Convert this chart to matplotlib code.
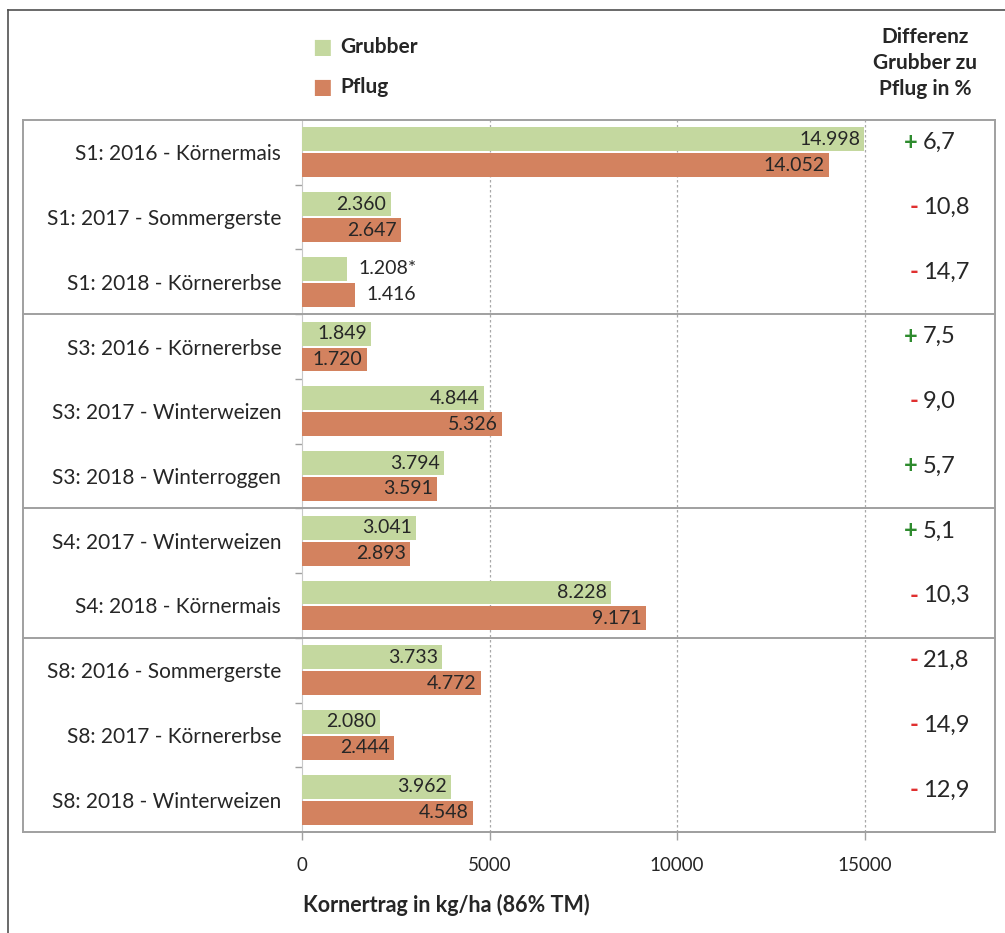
import matplotlib
matplotlib.use("Agg")
import matplotlib.pyplot as plt
from matplotlib.transforms import blended_transform_factory
from matplotlib.lines import Line2D

plt.rcParams['font.family'] = ['Lato', 'DejaVu Sans']

# data
categories = ["S1: 2016 - Körnermais", "S1: 2017 - Sommergerste", "S1: 2018 - Körnererbse",
              "S3: 2016 - Körnererbse", "S3: 2017 - Winterweizen", "S3: 2018 - Winterroggen",
              "S4: 2017 - Winterweizen", "S4: 2018 - Körnermais",
              "S8: 2016 - Sommergerste", "S8: 2017 - Körnererbse", "S8: 2018 - Winterweizen"]
grubber = [14998, 2360, 1208, 1849, 4844, 3794, 3041, 8228, 3733, 2080, 3962]
pflug = [14052, 2647, 1416, 1720, 5326, 3591, 2893, 9171, 4772, 2444, 4548]
differenz = ["+6,7", "-10,8", "-14,7", "+7,5", "-9,0", "+5,7", "+5,1", "-10,3", "-21,8", "-14,9", "-12,9"]
group_breaks = [2.5, 5.5, 7.5]
xticks = [0, 5000, 10000, 15000]

c_grub = "#c4d89f"
c_pflug = "#d3825f"
txt = "#262626"

W, H = 1005, 933
fig = plt.figure(figsize=(W / 100, H / 100), dpi=100)
ax = fig.add_axes([302 / W, 1 - 832 / H, 693 / W, 712 / H])

def fmt(v):
    return f"{v:,}".replace(",", ".")

ys = list(range(len(categories)))
bh = 0.37
ax.barh([y - 0.2 for y in ys], grubber, height=bh, color=c_grub, zorder=3)
ax.barh([y + 0.2 for y in ys], pflug, height=bh, color=c_pflug, zorder=3)

for y, g, p in zip(ys, grubber, pflug):
    for val, yy in ((g, y - 0.2), (p, y + 0.2)):
        lab = fmt(val)
        if val == 1208:
            lab += "*"
        if val < 1500:
            ax.text(val + 290, yy, lab, ha="left", va="center", fontsize=14, color=txt, zorder=4)
        else:
            ax.text(val - 110, yy, lab, ha="right", va="center", fontsize=14, color=txt, zorder=4)

ax.set_xlim(0, 18480)
ax.set_ylim(10.5, -0.5)
ax.set_xticks(xticks)
ax.set_xticklabels([str(t) for t in xticks], fontsize=13.5, color=txt)
ax.set_yticks(ys)
ax.set_yticklabels(categories, fontsize=15, color=txt)
ax.set_yticks([y + 0.5 for y in ys[:-1]], minor=True)
ax.tick_params(axis="y", which="major", length=0, pad=15)
ax.tick_params(axis="y", which="minor", length=5, color="#a0a0a0", width=1)
ax.tick_params(axis="x", length=6, color="#a0a0a0", width=1, pad=12)
for s in ["top", "right"]:
    ax.spines[s].set_visible(False)
ax.spines["left"].set_color("#c8c8c8")
ax.spines["bottom"].set_color("#a0a0a0")
ax.spines["bottom"].set_linewidth(1.3)
for t in xticks[1:]:
    ax.axvline(t, color="#a8a8a8", lw=0.9, ls=(0, (2, 2)), zorder=1)

# group boxes spanning label area and difference column
tr = blended_transform_factory(fig.transFigure, ax.transData)
x0, x1 = 23 / W, 995 / W
for yb in [-0.5] + group_breaks + [10.5]:
    fig.add_artist(Line2D([x0, x1], [yb, yb], transform=tr, color="#a0a0a0", lw=1.4))
for xb in (x0, x1):
    fig.add_artist(Line2D([xb, xb], [-0.5, 10.5], transform=tr, color="#a0a0a0", lw=1.4))

# difference column
for y, d in zip(ys, differenz):
    sign, num = d[0], d[1:]
    col = "#2e8b2e" if sign == "+" else "#e03030"
    ax.text(918 / W, y - 0.16, sign, transform=tr, ha="right", va="center",
            fontsize=17, color=col, fontweight="bold")
    ax.text(923 / W, y - 0.15, num, transform=tr, ha="left", va="center",
            fontsize=17, color=txt)

fig.text(925 / W, 1 - 63 / H, "Differenz\nGrubber zu\nPflug in %", ha="center", va="center",
         fontsize=15, fontweight="bold", color=txt, linespacing=1.35)

# legend
fig.text(322 / W, 1 - 47 / H, "■", ha="center", va="center", fontsize=15, color=c_grub)
fig.text(340 / W, 1 - 47 / H, "Grubber", ha="left", va="center", fontsize=15,
         fontweight="bold", color=txt)
fig.text(322 / W, 1 - 87 / H, "■", ha="center", va="center", fontsize=15, color=c_pflug)
fig.text(340 / W, 1 - 87 / H, "Pflug", ha="left", va="center", fontsize=15,
         fontweight="bold", color=txt)

fig.text(303 / W, 1 - 905 / H, "Kornertrag in kg/ha (86% TM)", ha="left", va="center",
         fontsize=15.5, fontweight="bold", color=txt)

# outer frame (top and left edge visible)
fig.add_artist(Line2D([8 / W, 8 / W], [0, 1 - 10 / H], transform=fig.transFigure, color="#505050", lw=1.2))
fig.add_artist(Line2D([8 / W, 1], [1 - 10 / H, 1 - 10 / H], transform=fig.transFigure, color="#505050", lw=1.2))

fig.savefig("out.png", dpi=100, facecolor="white")
